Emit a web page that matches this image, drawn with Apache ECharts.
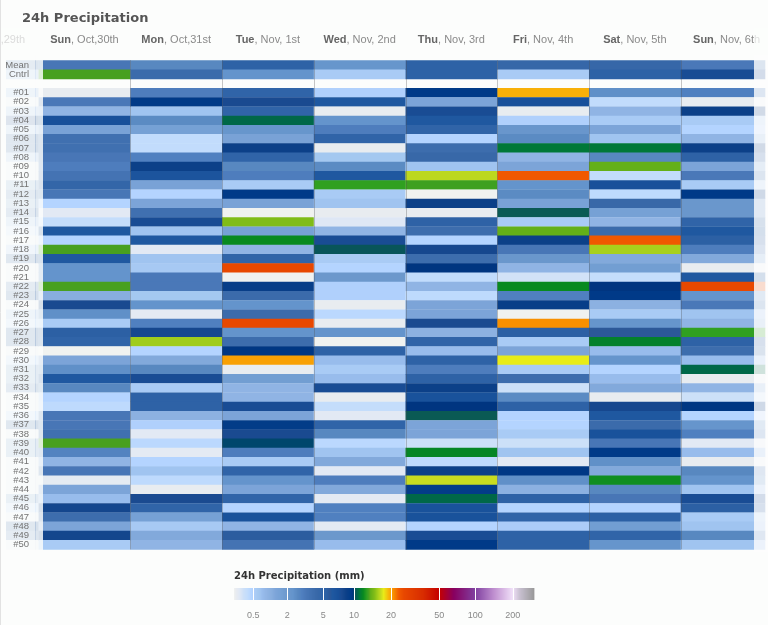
<!DOCTYPE html>
<html><head><meta charset="utf-8">
<script src="https://cdn.jsdelivr.net/npm/echarts@6/dist/echarts.min.js"></script>
<style>html,body{margin:0;padding:0;background:#fcfdfc}#main{width:768px;height:625px}</style>
</head><body><div id="main"></div>
<script>
// ---------- data ----------
const dayNames = ['Sat', 'Sun', 'Mon', 'Tue', 'Wed', 'Thu', 'Fri', 'Sat', 'Sun'];
const dayDates = ['Oct,29th', 'Oct,30th', 'Oct,31st', 'Nov, 1st', 'Nov, 2nd', 'Nov, 3rd', 'Nov, 4th', 'Nov, 5th', 'Nov, 6th'];
const rowLabels = ['Mean', 'Cntrl', '',
  '#01','#02','#03','#04','#05','#06','#07','#08','#09','#10',
  '#11','#12','#13','#14','#15','#16','#17','#18','#19','#20',
  '#21','#22','#23','#24','#25','#26','#27','#28','#29','#30',
  '#31','#32','#33','#34','#35','#36','#37','#38','#39','#40',
  '#41','#42','#43','#44','#45','#46','#47','#48','#49','#50'];

// 24h precipitation (mm): Mean, Cntrl, (gap), #01..#50
const sat29 = [4, 1, null,
  1, 0.1, 1, 9, 1, 7, 7, 1, 0.1, 0.1,
  2, 4, 2, 4, 1, 0.3, 0.1, 0.8, 7, 0.1,
  0.1, 4, 7, 0.1, 1, 0.5, 7, 7, 0.1, 0.5,
  2, 2, 4, 0.1, 0.1, 0.5, 7, 0.1, 2, 2,
  0.1, 0.1, 0.1, 0.1, 2, 0.5, 0.1, 7, 4, 0.1];
const sun30 = [3.6, 14, null,
  0.05, 3.5, 1.1, 7.5, 1.6, 4, 4, 3.6, 3.3, 3.8,
  4.8, 3.6, 0.45, 0.12, 0.33, 6.5, 0.45, 14, 6.5, 2.5,
  2.5, 14, 1.3, 8, 2.6, 0.6, 5.5, 5, 0, 1.5,
  2.6, 6.5, 2.9, 0.45, 0.38, 3.6, 3.6, 4, 14, 3.1,
  1.1, 3.6, 0.08, 1.5, 0.9, 8.3, 4.2, 1.5, 8.3, 0.6];
const mon31 = [2.9, 4.3, null,
  3.3, 9.5, 0.8, 2.8, 1.7, 0.35, 0.35, 3.2, 8.7, 7,
  1.6, 0.45, 1.5, 4, 7.8, 0.8, 6.5, 0.12, 0.8, 0.65,
  3.5, 3.5, 0.7, 2.5, 0.1, 3.2, 8.2, 16.3, 0.45, 1.4,
  2.9, 7.8, 0.6, 5.3, 5.3, 1.2, 0.5, 0.12, 0.4, 0.1,
  0.45, 0.8, 0.38, 0.05, 8, 5, 1.7, 0.65, 1.4, 1.1];
const tue1 = [5.2, 2.5, null,
  5, 8, 5, 11, 2.3, 1.6, 8.7, 5, 2.9, 3.3,
  0.6, 9.5, 1.6, 0, 15.5, 1.7, 12.5, 1.1, 5, 28,
  0, 9, 4.3, 2.5, 4.3, 28, 2.5, 4.2, 9.7, 20.5,
  0.05, 1.8, 1.1, 1.1, 7.8, 1.5, 9.3, 8, 10, 3.3,
  0.6, 5, 2.5, 1.5, 5, 0.45, 7.3, 1.1, 5.7, 3.8];
const wed2 = [2.3, 0.6, null,
  0.5, 6.5, 0.05, 2.5, 3.3, 5, 0.05, 0.7, 2.8, 6.5,
  13.5, 0.6, 0.8, 0.05, 0.15, 1.1, 7.8, 10.3, 0.6, 0.45,
  2, 0.5, 0.5, 0.05, 0.4, 0.05, 2.5, 0, 5.3, 0.9,
  0.6, 0.9, 7.8, 0.05, 0.33, 0.12, 5, 2.9, 0.4, 0.8,
  1.4, 0.12, 3.3, 1.4, 0.1, 3.2, 3.2, 0.1, 2, 0.9];
const thu3 = [5.2, 5.2, null,
  9.5, 1.5, 7.8, 6.5, 5, 0.45, 4.2, 4.5, 0.8, 17,
  13.8, 0, 8.7, 0.05, 5.2, 4.2, 0.45, 8.2, 4.2, 9.8,
  0.35, 1.1, 0.38, 1.5, 1.5, 8, 1.2, 5, 0.9, 5.3,
  3.3, 5.2, 8.7, 7.3, 9.8, 10.4, 1.5, 1.5, 0.25, 12.3,
  0.38, 8.7, 17.3, 9.3, 11, 7.3, 7.3, 0.45, 7.8, 9.5];
const fri4 = [4.6, 0.6, null,
  19.5, 7.5, 0.05, 0.5, 2.2, 2.8, 11.5, 1.1, 1.5, 25,
  2.5, 2.8, 1.6, 10.4, 0.6, 14.5, 8.7, 3.6, 2.1, 1.1,
  0.22, 12.5, 3.2, 9, 0, 21.5, 5.5, 0.6, 1.5, 18,
  0.6, 4.2, 0.25, 2.8, 5.3, 0.45, 0.45, 0.6, 0.25, 0.8,
  0.12, 9.6, 2.6, 1.2, 5.3, 0.45, 5, 0.55, 5.3, 5.3];
const sat5 = [4.6, 5.2, null,
  2.6, 0.35, 1.1, 0.6, 1.5, 0.8, 11.5, 2.9, 14.5, 0.35,
  7.5, 0.38, 4.5, 1.7, 1.1, 4.3, 25, 16.5, 1.4, 1.8,
  0.33, 9.8, 9.5, 1.2, 0.6, 2.4, 6, 12, 0.9, 2.4,
  0.45, 0.9, 1.4, 0.05, 8.2, 6.5, 4.3, 7.3, 3.6, 9.5,
  2.6, 1.4, 12.7, 2.9, 3.6, 0.45, 5.5, 1.8, 5, 2.4];
const sun6 = [3.5, 7.8, null,
  3.2, 0.05, 8.7, 0.6, 0.45, 1.1, 8.7, 5.2, 1.5, 3.5,
  0.6, 9.5, 2.1, 2.1, 5, 6.5, 5.5, 3.3, 1.4, 0.05,
  6.5, 28, 2.5, 3.5, 0.8, 1.1, 13.5, 5.2, 4.2, 0.9,
  11, 0.05, 1.1, 0.25, 9.7, 0.45, 2.4, 3.2, 0.12, 0.9,
  0.05, 2.9, 2.5, 0.8, 7.8, 5.5, 0.6, 0.8, 2.9, 0.8];
const dayValues = [sat29, sun30, mon31, tue1, wed2, thu3, fri4, sat5, sun6];

// colour scale (mm -> colour)
const stopMM = [0, 0.05, 0.12, 0.2, 0.25, 0.35, 0.45, 0.55, 0.7, 0.8, 0.9, 1.1, 1.3, 1.5, 1.75, 2, 2.5, 2.6, 2.9, 3.2, 3.5, 4, 4.5, 5, 5.5, 6, 6.5, 7.5, 8, 8.7, 9.5, 9.8, 10, 10.4, 11, 11.5, 12.5, 13.5, 14, 14.5, 15.5, 16.5, 17.3, 18, 19.5, 21.5, 25, 28, 40, 50, 70, 100, 150, 200, 300, 500];
const stopColor = ['#f0f2f0', '#e8ecf0', '#e2e9f4', '#d6e4f6', '#cce0f8', '#c2dcfc', '#b4d4ff', '#acccf8', '#a4c8f0', '#a0c4f0', '#98bcec', '#90b4e4', '#88aede', '#7ca4d8', '#74a0d4', '#6c98cc', '#6494cc', '#6090c8', '#5888c0', '#5080c0', '#4a78b8', '#4070b0', '#3868a8', '#3064a8', '#2c60a4', '#2c5898', '#1f58a0', '#18509a', '#1a4a90', '#0c4088', '#003a88', '#003580', '#00466c', '#0a5a54', '#006848', '#007838', '#088a20', '#30a020', '#48a020', '#64b018', '#80bc18', '#a8d01c', '#c8dc20', '#e8ec18', '#f8b008', '#f89000', '#f05800', '#e84800', '#d82c00', '#c40000', '#880060', '#8040a0', '#c090d0', '#f0e0f8', '#c8c0d0', '#999999'];

// legend scale
const legendTicks = [0.5, 2, 5, 10, 20, 50, 100, 200];
const legendScaleMM = [0, 0.5, 2, 5, 10, 20, 50, 100, 200, 500];
const legendScalePos = [0, 19.3, 53.3, 89.3, 120, 157, 205.3, 241.3, 278.7, 300];

// ---------- helpers ----------
function interp(v, xs, ys) {
  const n = xs.length;
  if (v <= xs[0]) return ys[0];
  if (v >= xs[n - 1]) return ys[n - 1];
  for (let k = 0; k < n - 1; k++) {
    if (v <= xs[k + 1]) {
      const t = (v - xs[k]) / (xs[k + 1] - xs[k]);
      return ys[k] + t * (ys[k + 1] - ys[k]);
    }
  }
}
const stopIdx = stopMM.map((_, i) => i);
const mmToIdx = v => interp(v, stopMM, stopIdx);
const mmToLegendPos = v => interp(v, legendScaleMM, legendScalePos);
const legendPosToMM = p => interp(p, legendScalePos, legendScaleMM);

const cellData = [];
dayValues.forEach((col, d) => {
  col.forEach((v, r) => { if (v !== null) cellData.push([d, r, v, mmToIdx(v)]); });
});
const legendBins = [];
for (let p = 0; p < 300; p++) {
  const mm = legendPosToMM(p + 0.5);
  legendBins.push([p, p + 1, mm, mmToIdx(mm)]);
}

const VIEW_LEFT = 6, VIEW_RIGHT = 765;
const FONT = 'Liberation Sans';

const chart = echarts.init(document.getElementById('main'), null, { renderer: 'canvas' });
chart.setOption({
  backgroundColor: '#fcfdfc',
  animation: false,
  title: [
    { text: '24h Precipitation', left: 22, top: 12, padding: 0,
      textStyle: { fontFamily: 'DejaVu Sans', fontWeight: 'bold', fontSize: 13, color: '#555' } },
    { text: '24h Precipitation (mm)', left: 234, top: 571, padding: 0,
      textStyle: { fontFamily: 'DejaVu Sans', fontWeight: 'bold', fontSize: 10, color: '#333' } }
  ],
  grid: [
    { left: 43, right: 14, top: 60.3, height: 489, outerBoundsMode: 'none' },
    { left: 234, top: 588, width: 300, height: 12, outerBoundsMode: 'none' }
  ],
  xAxis: [
    { type: 'value', gridIndex: 0, min: 0.548, max: 8.299, show: false },
    { type: 'value', gridIndex: 1, min: 0, max: 300, show: false }
  ],
  yAxis: [
    { type: 'category', gridIndex: 0, data: rowLabels, inverse: true, z: 50,
      axisLine: { show: false }, axisTick: { show: false }, splitLine: { show: false },
      axisLabel: { interval: 0, fontSize: 9.5, fontFamily: FONT, color: '#737373', margin: 14, padding: [4, 0, 0, 0] } },
    { type: 'value', gridIndex: 1, min: 0, max: 1, show: false }
  ],
  visualMap: {
    type: 'continuous', show: false, seriesIndex: [0, 3], dimension: 3,
    min: 0, max: stopMM.length - 1, inRange: { color: stopColor }
  },
  graphic: [
    { type: 'rect', z: 40, silent: true, shape: { x: 0, y: 55, width: 35.7, height: 497 }, style: { fill: 'rgba(252,253,252,0.88)' } },
    { type: 'rect', z: 40, silent: true, shape: { x: 35.7, y: 55, width: 7.3, height: 497 }, style: { fill: 'rgba(252,253,252,0.84)' } },
    { type: 'rect', z: 40, silent: true, shape: { x: 754, y: 55, width: 14, height: 497 }, style: { fill: 'rgba(252,253,252,0.82)' } },
    { type: 'rect', z: 40, silent: true, shape: { x: 0, y: 28, width: 30, height: 22 }, style: { fill: 'rgba(252,253,252,0.7)' } },
    { type: 'rect', z: 40, silent: true, shape: { x: 754, y: 28, width: 14, height: 22 }, style: { fill: 'rgba(252,253,252,0.75)' } },
    { type: 'line', z: 41, silent: true, shape: { x1: 0.5, y1: 0, x2: 0.5, y2: 625 }, style: { stroke: '#e2e2e2', lineWidth: 1 } }
  ],
  series: [
    {
      type: 'custom', name: 'cells', xAxisIndex: 0, yAxisIndex: 0, data: cellData,
      encode: { x: 0, y: 1 }, silent: true, z: 2,
      renderItem: function (params, api) {
        const c = api.coord([api.value(0), api.value(1)]);
        const s = api.size([1, 1]);
        const x0 = Math.max(c[0] - s[0] / 2, VIEW_LEFT);
        const x1 = Math.min(c[0] + s[0] / 2, VIEW_RIGHT);
        if (x1 <= x0) return;
        return { type: 'rect', shape: { x: x0, y: c[1] - s[1] / 2, width: x1 - x0 + 0.3, height: s[1] + 0.4 },
          style: { fill: api.visual('color') } };
      }
    },
    {
      type: 'custom', name: 'colLines', xAxisIndex: 0, yAxisIndex: 0,
      data: dayNames.slice(2).map((_, i) => [i + 1.5, 0]),
      encode: { x: 0, y: 1 }, silent: true, z: 3,
      renderItem: function (params, api) {
        const cs = params.coordSys;
        const x = Math.round(api.coord([api.value(0), 0])[0]) + 0.5;
        return { type: 'line', shape: { x1: x, y1: cs.y, x2: x, y2: cs.y + cs.height },
          style: { stroke: 'rgba(80,80,80,0.32)', lineWidth: 1 } };
      }
    },
    {
      type: 'custom', name: 'headers', xAxisIndex: 0, yAxisIndex: 0,
      data: dayNames.map((_, i) => [i, 0]),
      encode: { x: 0, y: 1 }, silent: true, z: 3,
      renderItem: function (params, api) {
        const cs = params.coordSys;
        const i = params.dataIndex;
        const x = api.coord([api.value(0), 0])[0];
        return { type: 'text', x: x, y: cs.y - 20.5,
          style: { text: '{b|' + dayNames[i] + '}, ' + dayDates[i],
            fontSize: 11, fontFamily: FONT, fontWeight: 'normal', fill: '#8a8a8a',
            align: 'center', verticalAlign: 'middle',
            rich: { b: { fontSize: 11, fontFamily: FONT, fontWeight: 'bold', fill: '#666', color: '#666' } } } };
      }
    },
    {
      type: 'custom', name: 'legendBar', xAxisIndex: 1, yAxisIndex: 1, data: legendBins,
      encode: { x: [0, 1] }, silent: true,
      renderItem: function (params, api) {
        const a = api.coord([api.value(0), 1]);
        const b = api.coord([api.value(1), 0]);
        return { type: 'rect', shape: { x: a[0], y: a[1], width: b[0] - a[0] + 0.4, height: b[1] - a[1] },
          style: { fill: api.visual('color') } };
      }
    },
    {
      type: 'custom', name: 'legendTicks', xAxisIndex: 1, yAxisIndex: 1,
      data: legendTicks.map(v => [mmToLegendPos(v), 0]),
      encode: { x: 0, y: 1 }, silent: true, z: 4,
      renderItem: function (params, api) {
        const cs = params.coordSys;
        const x = api.coord([api.value(0), 0])[0];
        const xl = Math.round(x) + 0.5;
        return { type: 'group', children: [
          { type: 'line', shape: { x1: xl, y1: cs.y, x2: xl, y2: cs.y + cs.height },
            style: { stroke: '#ffffff', lineWidth: 1 } },
          { type: 'text', x: x, y: cs.y + cs.height + 15.5,
            style: { text: String(legendTicks[params.dataIndex]), fontSize: 9, fontFamily: FONT,
              fill: '#888', align: 'center', verticalAlign: 'middle' } }
        ] };
      }
    }
  ]
});
</script></body></html>
